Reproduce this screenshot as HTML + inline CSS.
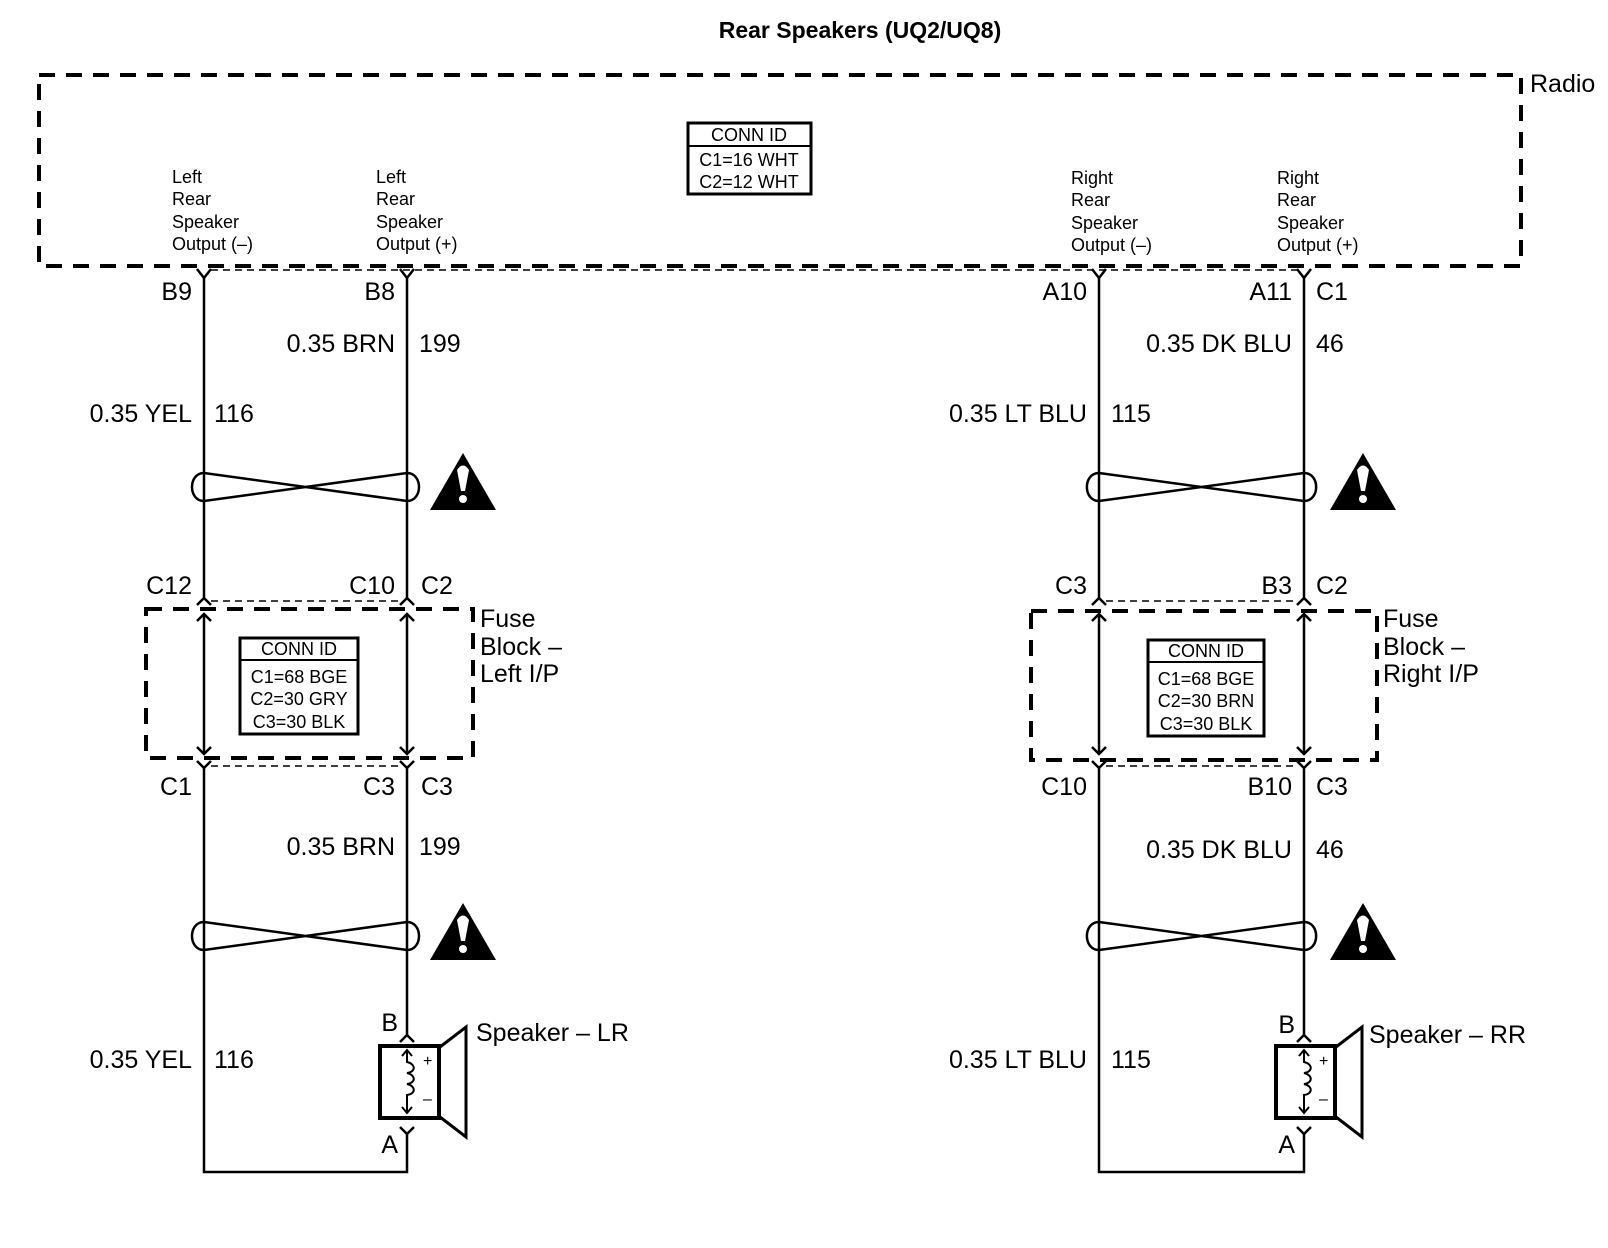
<!DOCTYPE html>
<html><head><meta charset="utf-8"><style>
html,body{margin:0;padding:0;background:#fff;}
svg{display:block;}
text{font-family:"Liberation Sans",Arial,sans-serif;fill:#000;}
.w{font-size:25px;}
.s{font-size:18px;}
</style></head><body>
<svg width="1608" height="1248" viewBox="0 0 1608 1248" xmlns="http://www.w3.org/2000/svg">
<defs>
<g id="tw" fill="none" stroke="#000" stroke-width="2.5">
  <path d="M0,-14 L203,14 M0,14 L203,-14"/>
  <path d="M0,-14 C-16,-14 -16,14 0,14"/>
  <path d="M203,-14 C219,-14 219,14 203,14"/>
</g>
<g id="warn">
  <polygon points="33,0 0,57 66,57" fill="#000"/>
  <path d="M27,17 Q33,8 39,17 L35,38 L31,38 Z" fill="#fff"/>
  <circle cx="33" cy="46" r="4" fill="#fff"/>
</g>
</defs>

<text x="860" y="38" text-anchor="middle" style="font-size:23px;font-weight:bold">Rear Speakers (UQ2/UQ8)</text>

<rect x="39" y="75" width="1482" height="191" fill="none" stroke="#000" stroke-width="4" stroke-dasharray="16,11"/>
<text x="1530" y="92" class="w">Radio</text>
<rect x="688" y="123" width="123" height="71" fill="none" stroke="#000" stroke-width="3"/>
<line x1="688" y1="146" x2="811" y2="146" stroke="#000" stroke-width="2"/>
<text x="749" y="141" class="s" text-anchor="middle">CONN ID</text>
<text x="749" y="166" class="s" text-anchor="middle">C1=16 WHT</text>
<text x="749" y="188" class="s" text-anchor="middle">C2=12 WHT</text>

<g class="s">
<text x="172" y="183">Left</text><text x="172" y="205">Rear</text><text x="172" y="228">Speaker</text><text x="172" y="250">Output (–)</text>
<text x="376" y="183">Left</text><text x="376" y="205">Rear</text><text x="376" y="228">Speaker</text><text x="376" y="250">Output (+)</text>
<text x="1071" y="184">Right</text><text x="1071" y="206">Rear</text><text x="1071" y="229">Speaker</text><text x="1071" y="251">Output (–)</text>
<text x="1277" y="184">Right</text><text x="1277" y="206">Rear</text><text x="1277" y="229">Speaker</text><text x="1277" y="251">Output (+)</text>
</g>

<g fill="none" stroke="#000" stroke-width="2.5">
  <path d="M204,278 V598 M407,278 V598 M204,614 V754 M407,614 V754 M204,768 V1172 H407 V1134 M407,768 V1035"/>
  <path d="M1099,278 V598 M1304,278 V598 M1099,614 V754 M1304,614 V754 M1099,768 V1172 H1304 V1134 M1304,768 V1035"/>
  <path d="M197,269 L204,278 L211,269 M400,269 L407,278 L414,269 M1092,269 L1099,278 L1106,269 M1297,269 L1304,278 L1311,269"/>
  <path d="M197,605 L204,598 L211,605 M400,605 L407,598 L414,605 M1092,605 L1099,598 L1106,605 M1297,605 L1304,598 L1311,605"/>
  <path d="M197,621 L204,614 L211,621 M400,621 L407,614 L414,621 M1092,621 L1099,614 L1106,621 M1297,621 L1304,614 L1311,621"/>
  <path d="M197,747 L204,754 L211,747 M400,747 L407,754 L414,747 M1092,747 L1099,754 L1106,747 M1297,747 L1304,754 L1311,747"/>
  <path d="M197,761 L204,768 L211,761 M400,761 L407,768 L414,761 M1092,761 L1099,768 L1106,761 M1297,761 L1304,768 L1311,761"/>
  <path d="M400,1042 L407,1035 L414,1042 M1297,1042 L1304,1035 L1311,1042"/>
  <path d="M400,1127 L407,1134 L414,1127 M1297,1127 L1304,1134 L1311,1127"/>
</g>
<g stroke="#000" stroke-width="1.5" stroke-dasharray="7,5">
  <line x1="211" y1="270" x2="1297" y2="270"/>
  <line x1="211" y1="601" x2="400" y2="601"/>
  <line x1="211" y1="766" x2="400" y2="766"/>
  <line x1="1106" y1="601" x2="1297" y2="601"/>
  <line x1="1106" y1="766" x2="1297" y2="766"/>
</g>

<rect x="146" y="609" width="327" height="149" fill="none" stroke="#000" stroke-width="4" stroke-dasharray="16,11"/>
<rect x="1031" y="611" width="346" height="149" fill="none" stroke="#000" stroke-width="4" stroke-dasharray="16,11"/>
<g fill="none" stroke="#000">
<rect x="240" y="638" width="118" height="96" stroke-width="3"/>
<line x1="240" y1="660" x2="358" y2="660" stroke-width="2"/>
<rect x="1148" y="640" width="116" height="96" stroke-width="3"/>
<line x1="1148" y1="662" x2="1264" y2="662" stroke-width="2"/>
</g>
<g class="s" text-anchor="middle">
<text x="299" y="655">CONN ID</text><text x="299" y="683">C1=68 BGE</text><text x="299" y="705">C2=30 GRY</text><text x="299" y="728">C3=30 BLK</text>
<text x="1206" y="657">CONN ID</text><text x="1206" y="685">C1=68 BGE</text><text x="1206" y="707">C2=30 BRN</text><text x="1206" y="730">C3=30 BLK</text>
</g>
<g class="w">
<text x="480" y="627">Fuse</text><text x="480" y="655">Block –</text><text x="480" y="682">Left I/P</text>
<text x="1383" y="627">Fuse</text><text x="1383" y="655">Block –</text><text x="1383" y="682">Right I/P</text>
</g>

<use href="#tw" x="204" y="487"/>
<use href="#tw" x="1099" y="487" transform="translate(1099,487) scale(1.01,1) translate(-1099,-487)"/>
<use href="#tw" x="204" y="936"/>
<use href="#tw" x="1099" y="936" transform="translate(1099,936) scale(1.01,1) translate(-1099,-936)"/>
<use href="#warn" x="430" y="453"/>
<use href="#warn" x="1330" y="453"/>
<use href="#warn" x="430" y="903"/>
<use href="#warn" x="1330" y="903"/>

<g fill="none" stroke="#000">
  <rect x="380" y="1046" width="59" height="72" stroke-width="4"/>
  <path d="M440,1047 L466,1027 V1137 L440,1117" stroke-width="3"/>
  <path d="M407,1050 V1062 C416,1064 416,1072 407,1073 C416,1075 416,1083 407,1084 C416,1086 416,1094 407,1095 V1113" stroke-width="2"/>
  <path d="M402,1056 L407,1050 L412,1056 M402,1107 L407,1113 L412,1107" stroke-width="2"/>
  <rect x="1276" y="1046" width="59" height="72" stroke-width="4"/>
  <path d="M1336,1047 L1362,1027 V1137 L1336,1117" stroke-width="3"/>
  <path d="M1304,1050 V1062 C1313,1064 1313,1072 1304,1073 C1313,1075 1313,1083 1304,1084 C1313,1086 1313,1094 1304,1095 V1113" stroke-width="2"/>
  <path d="M1299,1056 L1304,1050 L1309,1056 M1299,1107 L1304,1113 L1309,1107" stroke-width="2"/>
</g>
<g style="font-size:16px">
<text x="423" y="1066">+</text><text x="423" y="1104">–</text>
<text x="1319" y="1066">+</text><text x="1319" y="1104">–</text>
</g>

<g class="w">
<text x="192" y="300" text-anchor="end">B9</text>
<text x="395" y="300" text-anchor="end">B8</text>
<text x="1087" y="300" text-anchor="end">A10</text>
<text x="1292" y="300" text-anchor="end">A11</text>
<text x="1316" y="300">C1</text>

<text x="395" y="352" text-anchor="end">0.35 BRN</text><text x="419" y="352">199</text>
<text x="192" y="422" text-anchor="end">0.35 YEL</text><text x="214" y="422">116</text>
<text x="1292" y="352" text-anchor="end">0.35 DK BLU</text><text x="1316" y="352">46</text>
<text x="1087" y="422" text-anchor="end">0.35 LT BLU</text><text x="1111" y="422">115</text>

<text x="192" y="594" text-anchor="end">C12</text>
<text x="395" y="594" text-anchor="end">C10</text><text x="421" y="594">C2</text>
<text x="1087" y="594" text-anchor="end">C3</text>
<text x="1292" y="594" text-anchor="end">B3</text><text x="1316" y="594">C2</text>

<text x="192" y="795" text-anchor="end">C1</text>
<text x="395" y="795" text-anchor="end">C3</text><text x="421" y="795">C3</text>
<text x="1087" y="795" text-anchor="end">C10</text>
<text x="1292" y="795" text-anchor="end">B10</text><text x="1316" y="795">C3</text>

<text x="395" y="855" text-anchor="end">0.35 BRN</text><text x="419" y="855">199</text>
<text x="1292" y="858" text-anchor="end">0.35 DK BLU</text><text x="1316" y="858">46</text>

<text x="192" y="1068" text-anchor="end">0.35 YEL</text><text x="214" y="1068">116</text>
<text x="1087" y="1068" text-anchor="end">0.35 LT BLU</text><text x="1111" y="1068">115</text>

<text x="398" y="1031" text-anchor="end">B</text>
<text x="398" y="1153" text-anchor="end">A</text>
<text x="1295" y="1033" text-anchor="end">B</text>
<text x="1295" y="1153" text-anchor="end">A</text>
<text x="476" y="1041">Speaker – LR</text>
<text x="1369" y="1043">Speaker – RR</text>
</g>
</svg>
</body></html>
